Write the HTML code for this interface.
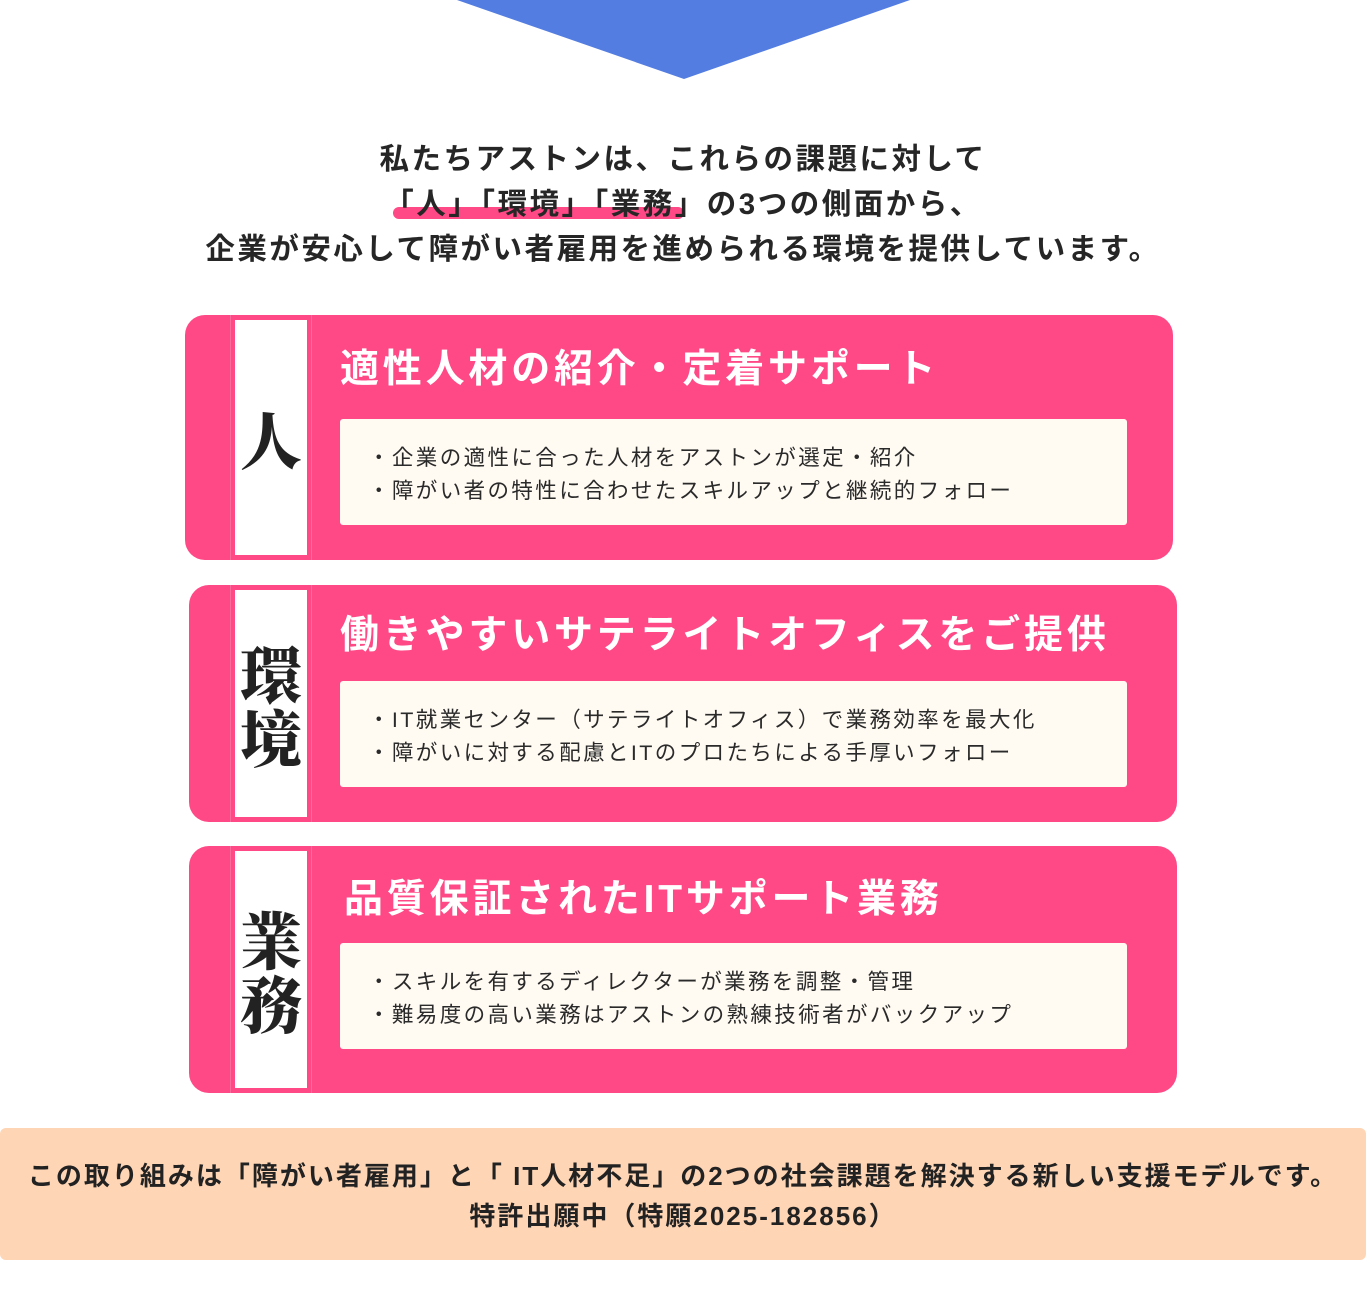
<!DOCTYPE html>
<html><head><meta charset="utf-8"><style>
*{margin:0;padding:0;box-sizing:border-box}
body{width:1366px;height:1302px;background:#fff;position:relative;font-family:"Liberation Sans","Noto Sans CJK JP",sans-serif;color:#222;overflow:hidden}
.a{position:absolute}
.intro{left:0;width:1366px;text-align:center;font-size:29.5px;letter-spacing:2.5px;font-weight:bold;line-height:45px;top:137px;color:#262626}
.card{position:absolute;background:#ff4886;border-radius:20px}
.band{position:absolute;top:5px;bottom:5px;left:50px;width:72px;background:#fff;display:flex;align-items:center;justify-content:center;font-family:"Noto Serif CJK SC",serif;font-weight:900;font-size:62px;line-height:64px;color:#222;text-align:center}
.strip{position:absolute;top:0;bottom:0;left:45px;width:82px;border-left:1px solid #ff6a9c;border-right:1px solid #ff6a9c}
.title{position:absolute;left:155px;color:#fff;font-weight:bold;font-size:39px;letter-spacing:3.8px;white-space:nowrap}
.box{position:absolute;left:155px;width:787px;height:106px;background:#fffaf2;border-radius:3px;padding:23px 0 0 28px;font-size:21.5px;letter-spacing:2.4px;line-height:33px;color:#2a2a2a;white-space:nowrap}
.c2 .band,.c3 .band{left:46px}
.c2 .strip,.c3 .strip{left:41px}
</style></head><body>
<svg class="a" style="left:0;top:0" width="1366" height="90"><polygon points="457,0 910,0 684,79" fill="#537de0"/></svg>
<div class="a" style="left:393px;top:207px;width:291px;height:12px;background:#ff4886;border-radius:6px"></div>
<div class="a intro">私たちアストンは、これらの課題に対して<br>「人」「環境」「業務」の3つの側面から、<br>企業が安心して障がい者雇用を進められる環境を提供しています。</div>

<div class="card" style="left:185px;top:315px;width:988px;height:245px">
<div class="strip"></div><div class="band">人</div>
<div class="title" style="top:23px">適性人材の紹介・定着サポート</div>
<div class="box" style="top:104px">・企業の適性に合った人材をアストンが選定・紹介<br>・障がい者の特性に合わせたスキルアップと継続的フォロー</div>
</div>

<div class="card c2" style="left:189px;top:585px;width:988px;height:237px">
<div class="strip"></div><div class="band">環<br>境</div>
<div class="title" style="top:19px;left:151px">働きやすいサテライトオフィスをご提供</div>
<div class="box" style="top:96px;left:151px;width:787px">・IT就業センター（サテライトオフィス）で業務効率を最大化<br>・障がいに対する配慮とITのプロたちによる手厚いフォロー</div>
</div>

<div class="card c3" style="left:189px;top:846px;width:988px;height:247px">
<div class="strip"></div><div class="band">業<br>務</div>
<div class="title" style="top:22px;left:155px">品質保証されたITサポート業務</div>
<div class="box" style="top:97px;left:151px;width:787px">・スキルを有するディレクターが業務を調整・管理<br>・難易度の高い業務はアストンの熟練技術者がバックアップ</div>
</div>

<div class="a" style="left:0;top:1128px;width:1366px;height:132px;background:#fed5b5;border-radius:6px;text-align:center;font-weight:bold;font-size:26px;line-height:40px;padding-top:28px;letter-spacing:2px;color:#222">この取り組みは「障がい者雇用」と「 IT人材不足」の2つの社会課題を解決する新しい支援モデルです。<br>特許出願中（特願2025-182856）</div>
</body></html>
